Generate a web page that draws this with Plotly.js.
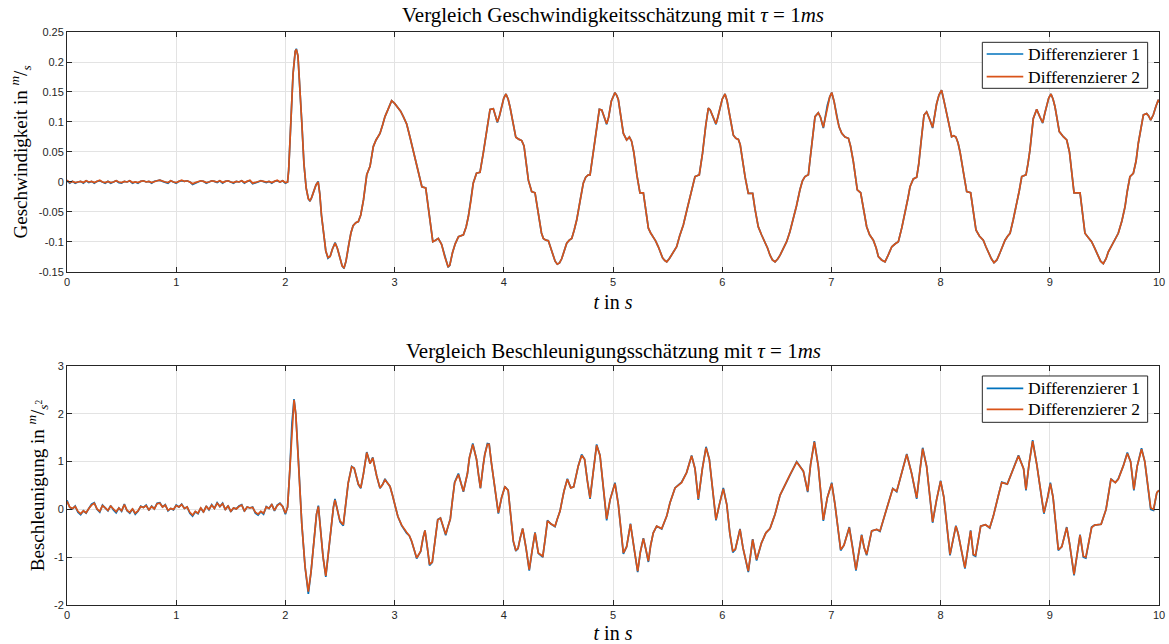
<!DOCTYPE html>
<html>
<head>
<meta charset="utf-8">
<script src="https://cdn.plot.ly/plotly-3.0.1.min.js"></script>
<style>html,body{margin:0;padding:0;background:#fff;}#chart{width:1169px;height:644px;}</style>
</head>
<body>
<div id="chart"></div>
<script>
// ---------- Data ----------
const velTime = [0,0.025,0.05,0.075,0.1,0.125,0.15,0.175,0.2,0.225,0.25,0.275,0.3,0.325,0.35,0.375,0.4,0.425,0.45,0.475,0.5,0.525,0.55,0.575,0.6,0.625,0.65,0.675,0.7,0.725,0.75,0.775,0.8,0.825,0.85,0.875,0.9,0.925,0.95,0.975,1.0,1.025,1.05,1.075,1.1,1.125,1.15,1.175,1.2,1.225,1.25,1.275,1.3,1.325,1.35,1.375,1.4,1.425,1.45,1.475,1.5,1.525,1.55,1.575,1.6,1.625,1.65,1.675,1.7,1.725,1.75,1.775,1.8,1.825,1.85,1.875,1.9,1.925,1.95,1.975,2.0,2.02,
2.03,2.05,2.07,2.09,2.1,2.115,2.13,2.15,2.17,2.19,2.21,2.225,2.24,2.26,2.28,2.3,2.315,2.33,2.35,2.37,2.39,2.41,2.43,2.455,2.475,2.5,2.52,2.537,2.555,2.58,2.6,2.62,2.645,2.668,2.69,2.715,2.745,2.775,2.79,2.805,2.83,2.866,2.89,2.912,2.94,2.973,3.0,3.03,3.055,3.08,3.11,3.14,3.18,3.217,3.235,3.25,3.285,3.3,3.32,3.35,3.375,3.4,3.43,3.46,3.49,3.505,3.53,3.555,3.585,3.63,3.655,3.675,3.7,3.72,3.75,3.782,3.812,3.845,3.874,3.904,3.92,3.941,3.96,3.98,4.0,4.02,4.04,4.057,4.085,4.11,4.14,4.164,4.185,4.205,4.225,4.255,4.286,4.305,4.325,4.345,4.362,4.385,4.408,4.43,4.453,4.47,4.49,4.51,4.53,4.555,4.576,4.6,4.622,4.645,4.668,4.7,4.728,4.75,4.774,4.79,4.82,4.85,4.875,4.897,4.92,4.942,4.96,4.985,5.018,5.035,5.049,5.07,5.095,5.125,5.15,5.17,5.19,5.22,5.247,5.278,5.3,5.324,5.345,5.369,5.39,5.415,5.435,5.455,5.475,5.492,5.515,5.537,5.56,5.583,5.61,5.644,5.675,5.705,5.73,5.751,5.79,5.82,5.85,5.873,5.89,5.903,5.925,5.943,5.96,5.98,6.0,6.026,6.045,6.06,6.08,6.102,6.125,6.148,6.165,6.185,6.21,6.239,6.279,6.3,6.33,6.36,6.392,6.415,6.438,6.46,6.484,6.51,6.53,6.56,6.59,6.62,6.651,6.68,6.712,6.735,6.758,6.789,6.8,6.82,6.85,6.88,6.9,6.926,6.945,6.963,6.985,7.003,7.025,7.049,7.07,7.095,7.125,7.156,7.175,7.2,7.237,7.268,7.29,7.323,7.35,7.384,7.41,7.43,7.46,7.491,7.52,7.553,7.585,7.613,7.645,7.674,7.7,7.72,7.75,7.781,7.8,7.82,7.848,7.872,7.9,7.927,7.945,7.963,7.985,8.009,8.03,8.055,8.08,8.101,8.12,8.14,8.16,8.178,8.21,8.239,8.275,8.3,8.324,8.355,8.391,8.415,8.437,8.465,8.489,8.515,8.544,8.57,8.59,8.615,8.636,8.665,8.697,8.72,8.743,8.782,8.8,8.818,8.849,8.88,8.91,8.935,8.955,8.971,8.99,9.011,9.03,9.048,9.07,9.087,9.124,9.155,9.18,9.2,9.222,9.277,9.3,9.322,9.35,9.383,9.41,9.444,9.465,9.49,9.515,9.535,9.56,9.581,9.605,9.627,9.66,9.689,9.71,9.734,9.765,9.79,9.811,9.835,9.857,9.887,9.905,9.924,9.948,9.97,9.994,10.0];

const velDiff2 = [0.003,-0.001,0.001,-0.001,0.000,0.001,-0.001,0.002,0.000,0.001,-0.001,0.001,0.003,0.000,-0.001,0.001,-0.001,0.000,0.002,0.000,-0.001,0.001,0.000,0.002,-0.001,0.000,-0.001,0.001,0.002,0.000,0.001,-0.001,0.001,0.002,0.003,0.001,0.000,-0.001,0.002,0.000,-0.001,0.001,0.003,0.001,0.002,0.000,-0.003,-0.001,0.000,0.002,0.001,-0.001,0.000,0.002,0.001,0.000,0.002,-0.001,0.001,0.002,0.000,-0.001,0.001,0.000,0.002,-0.001,0.001,0.003,-0.002,-0.001,0.000,0.002,0.001,0.000,0.001,-0.001,0.001,0.003,0.000,0.002,-0.001,0.000,
0.02,0.10,0.18,0.218,0.221,0.21,0.17,0.10,0.03,-0.01,-0.028,-0.031,-0.026,-0.015,-0.005,0.000,-0.02,-0.055,-0.09,-0.115,-0.126,-0.124,-0.112,-0.102,-0.11,-0.128,-0.14,-0.143,-0.132,-0.105,-0.085,-0.073,-0.068,-0.066,-0.055,-0.03,0.012,0.026,0.045,0.059,0.07,0.081,0.095,0.109,0.121,0.1355,0.131,0.124,0.118,0.109,0.097,0.0755,0.045,0.015,0.004,-0.008,-0.01,-0.03,-0.065,-0.0995,-0.097,-0.094,-0.104,-0.125,-0.141,-0.139,-0.118,-0.103,-0.091,-0.088,-0.075,-0.058,-0.03,-0.002,0.0145,0.016,0.048,0.09,0.121,0.122,0.112,0.1,0.11,0.1255,0.14,0.1467,0.138,0.125,0.097,0.0745,0.071,0.069,0.06,0.03,0.003,-0.016,-0.018,-0.04,-0.063,-0.085,-0.094,-0.097,-0.098,-0.11,-0.1245,-0.132,-0.137,-0.135,-0.128,-0.112,-0.102,-0.097,-0.094,-0.08,-0.063,-0.03,-0.002,0.008,0.012,0.012,0.048,0.09,0.121,0.12,0.108,0.097,0.108,0.135,0.149,0.144,0.137,0.11,0.081,0.07,0.075,0.068,0.05,0.01,-0.018,-0.018,-0.045,-0.077,-0.085,-0.091,-0.098,-0.108,-0.118,-0.127,-0.131,-0.133,-0.128,-0.122,-0.115,-0.108,-0.09,-0.0717,-0.048,-0.0245,-0.002,0.009,0.012,0.048,0.095,0.123,0.12,0.1145,0.105,0.097,0.108,0.121,0.138,0.1467,0.135,0.12,0.098,0.078,0.073,0.071,0.062,0.035,0.008,-0.019,-0.019,-0.045,-0.0745,-0.088,-0.0995,-0.11,-0.122,-0.13,-0.133,-0.128,-0.122,-0.11,-0.0995,-0.083,-0.063,-0.04,-0.013,0.002,0.009,0.012,0.03,0.059,0.109,0.1155,0.108,0.091,0.108,0.128,0.142,0.149,0.134,0.109,0.092,0.081,0.075,0.0728,0.06,0.035,-0.013,-0.018,-0.04,-0.0745,-0.088,-0.097,-0.11,-0.1245,-0.13,-0.133,-0.122,-0.108,-0.103,-0.0995,-0.076,-0.052,-0.028,-0.008,0.005,0.008,0.03,0.065,0.1117,0.117,0.105,0.091,0.11,0.13,0.145,0.153,0.136,0.1145,0.09,0.0755,0.077,0.075,0.065,0.05,0.015,-0.016,-0.018,-0.05,-0.08,-0.09,-0.097,-0.108,-0.118,-0.128,-0.1345,-0.13,-0.118,-0.105,-0.097,-0.09,-0.0855,-0.063,-0.038,-0.015,0.009,0.012,0.03,0.053,0.106,0.121,0.108,0.099,0.115,0.128,0.14,0.1467,0.138,0.125,0.1,0.084,0.0755,0.07,0.05,0.02,-0.018,-0.018,-0.05,-0.0855,-0.092,-0.0995,-0.11,-0.1245,-0.132,-0.136,-0.128,-0.117,-0.108,-0.0995,-0.092,-0.0855,-0.065,-0.041,-0.015,0.009,0.0145,0.035,0.065,0.09,0.1117,0.114,0.11,0.103,0.112,0.125,0.137,0.133];

const velDiff1 = [0.002,-0.002,0.001,-0.002,0.000,0.001,-0.002,0.002,-0.001,0.001,-0.002,0.001,0.002,0.000,-0.002,0.001,-0.002,0.000,0.002,-0.001,-0.002,0.001,0.000,0.002,-0.002,0.000,-0.002,0.001,0.002,0.000,0.001,-0.002,0.001,0.002,0.003,0.001,0.000,-0.002,0.002,0.000,-0.002,0.001,0.002,0.001,0.002,0.000,-0.004,-0.002,0.000,0.002,0.001,-0.002,0.000,0.002,0.001,-0.001,0.002,-0.002,0.001,0.002,0.000,-0.002,0.001,0.000,0.002,-0.002,0.001,0.002,-0.003,-0.002,0.000,0.002,0.001,-0.001,0.001,-0.002,0.001,0.002,0.000,0.002,-0.002,0.000,
0.02,0.10,0.18,0.218,0.222,0.21,0.17,0.10,0.03,-0.01,-0.028,-0.032,-0.026,-0.015,-0.005,0.001,-0.02,-0.055,-0.09,-0.115,-0.127,-0.124,-0.112,-0.101,-0.11,-0.128,-0.14,-0.144,-0.132,-0.105,-0.085,-0.073,-0.068,-0.066,-0.055,-0.03,0.012,0.026,0.045,0.059,0.07,0.081,0.095,0.109,0.121,0.1355,0.131,0.124,0.118,0.109,0.097,0.0755,0.045,0.015,0.004,-0.008,-0.01,-0.03,-0.065,-0.0995,-0.097,-0.094,-0.104,-0.125,-0.142,-0.139,-0.118,-0.103,-0.091,-0.088,-0.075,-0.058,-0.03,-0.002,0.0145,0.016,0.048,0.09,0.121,0.122,0.112,0.099,0.11,0.1255,0.14,0.1467,0.138,0.125,0.097,0.0745,0.071,0.069,0.06,0.03,0.003,-0.016,-0.018,-0.04,-0.063,-0.085,-0.094,-0.097,-0.098,-0.11,-0.1245,-0.132,-0.137,-0.135,-0.128,-0.112,-0.102,-0.097,-0.094,-0.08,-0.063,-0.03,-0.002,0.008,0.012,0.012,0.048,0.09,0.121,0.12,0.108,0.096,0.108,0.135,0.149,0.144,0.137,0.11,0.081,0.07,0.075,0.068,0.05,0.01,-0.018,-0.018,-0.045,-0.077,-0.085,-0.091,-0.098,-0.108,-0.118,-0.127,-0.131,-0.133,-0.128,-0.122,-0.115,-0.108,-0.09,-0.0717,-0.048,-0.0245,-0.002,0.009,0.012,0.048,0.095,0.123,0.12,0.1145,0.105,0.096,0.108,0.121,0.138,0.1467,0.135,0.12,0.098,0.078,0.073,0.071,0.062,0.035,0.008,-0.019,-0.019,-0.045,-0.0745,-0.088,-0.0995,-0.11,-0.122,-0.13,-0.133,-0.128,-0.122,-0.11,-0.0995,-0.083,-0.063,-0.04,-0.013,0.002,0.009,0.012,0.03,0.059,0.109,0.1155,0.108,0.09,0.108,0.128,0.142,0.149,0.134,0.109,0.092,0.081,0.075,0.0728,0.06,0.035,-0.013,-0.018,-0.04,-0.0745,-0.088,-0.097,-0.11,-0.1245,-0.13,-0.133,-0.122,-0.108,-0.103,-0.0995,-0.076,-0.052,-0.028,-0.008,0.005,0.008,0.03,0.065,0.1117,0.117,0.105,0.09,0.11,0.13,0.145,0.153,0.136,0.1145,0.09,0.0755,0.077,0.075,0.065,0.05,0.015,-0.016,-0.018,-0.05,-0.08,-0.09,-0.097,-0.108,-0.118,-0.128,-0.1345,-0.13,-0.118,-0.105,-0.097,-0.09,-0.0855,-0.063,-0.038,-0.015,0.009,0.012,0.03,0.053,0.106,0.121,0.108,0.098,0.115,0.128,0.14,0.1467,0.138,0.125,0.1,0.084,0.0755,0.07,0.05,0.02,-0.018,-0.018,-0.05,-0.0855,-0.092,-0.0995,-0.11,-0.1245,-0.132,-0.136,-0.128,-0.117,-0.108,-0.0995,-0.092,-0.0855,-0.065,-0.041,-0.015,0.009,0.0145,0.035,0.065,0.09,0.1117,0.114,0.11,0.103,0.112,0.125,0.137,0.133];

const accTime = [0,0.025,0.05,0.075,0.1,0.125,0.15,0.175,0.2,0.225,0.25,0.275,0.3,0.325,0.35,0.375,0.4,0.425,0.45,0.475,0.5,0.525,0.55,0.575,0.6,0.625,0.65,0.675,0.7,0.725,0.75,0.775,0.8,0.825,0.85,0.875,0.9,0.925,0.95,0.975,1.0,1.025,1.05,1.075,1.1,1.125,1.15,1.175,1.2,1.225,1.25,1.275,1.3,1.325,1.35,1.375,1.4,1.425,1.45,1.475,1.5,1.525,1.55,1.575,1.6,1.625,1.65,1.675,1.7,1.725,1.75,1.775,1.8,1.825,1.85,1.875,1.9,1.925,1.95,1.975,2.0,2.02,
2.04,2.06,2.079,2.095,2.12,2.15,2.18,2.21,2.235,2.26,2.285,2.302,2.32,2.345,2.37,2.39,2.415,2.44,2.454,2.475,2.5,2.53,2.55,2.575,2.607,2.63,2.668,2.69,2.715,2.745,2.775,2.8,2.836,2.866,2.89,2.912,2.935,2.958,2.98,3.004,3.03,3.065,3.09,3.11,3.135,3.156,3.18,3.202,3.22,3.239,3.26,3.278,3.3,3.32,3.345,3.37,3.395,3.42,3.445,3.468,3.49,3.51,3.53,3.55,3.584,3.61,3.63,3.667,3.685,3.716,3.735,3.75,3.77,3.786,3.81,3.826,3.85,3.866,3.885,3.904,3.93,3.95,3.98,4.01,4.04,4.065,4.087,4.11,4.13,4.15,4.173,4.203,4.233,4.26,4.286,4.316,4.357,4.38,4.4,4.43,4.469,4.49,4.515,4.535,4.551,4.582,4.613,4.64,4.682,4.713,4.74,4.765,4.79,4.82,4.85,4.881,4.91,4.942,4.973,5.018,5.049,5.07,5.095,5.125,5.16,5.192,5.226,5.25,5.278,5.302,5.324,5.345,5.369,5.4,5.446,5.492,5.522,5.568,5.628,5.674,5.72,5.751,5.781,5.818,5.852,5.882,5.91,5.943,5.974,6.01,6.042,6.07,6.097,6.12,6.163,6.19,6.239,6.279,6.315,6.36,6.4,6.438,6.461,6.484,6.53,6.576,6.621,6.682,6.743,6.783,6.81,6.844,6.88,6.926,6.963,7.003,7.033,7.085,7.115,7.164,7.195,7.225,7.277,7.3,7.323,7.369,7.415,7.445,7.491,7.537,7.562,7.598,7.635,7.69,7.735,7.781,7.81,7.836,7.872,7.927,7.963,8.0,8.03,8.086,8.14,8.16,8.223,8.275,8.3,8.32,8.367,8.41,8.45,8.483,8.528,8.56,8.611,8.652,8.713,8.76,8.782,8.81,8.843,8.88,8.946,8.98,9.005,9.03,9.078,9.11,9.155,9.18,9.222,9.277,9.307,9.33,9.383,9.41,9.47,9.515,9.56,9.6,9.627,9.673,9.71,9.74,9.77,9.8,9.84,9.87,9.924,9.95,9.98,10.0];

const accDiff2 = [0.17,0.05,0.02,0.06,-0.04,-0.09,-0.03,-0.07,0.02,0.09,0.13,0.01,-0.04,0.08,0.03,-0.02,0.07,0.00,-0.05,0.03,-0.03,0.10,-0.02,-0.06,0.01,-0.08,-0.03,0.06,0.04,0.08,-0.01,0.06,0.01,0.12,0.13,0.05,0.09,-0.02,0.02,0.00,0.08,0.05,0.10,0.02,0.05,-0.06,-0.12,-0.04,-0.08,0.03,-0.05,0.06,0.00,0.09,0.02,0.13,0.06,0.12,0.00,0.07,-0.04,0.03,0.01,0.06,0.09,-0.03,0.05,0.03,0.04,-0.06,-0.10,-0.04,-0.08,0.05,0.02,0.10,-0.02,0.08,0.12,0.06,-0.08,0.05,
0.8,1.8,2.29,2.0,1.0,-0.3,-1.2,-1.72,-1.3,-0.7,-0.1,0.06,-0.4,-1.0,-1.39,-1.0,-0.4,0.05,0.2,0.0,-0.24,-0.32,0.1,0.55,0.89,0.86,0.53,0.45,0.75,1.19,0.96,1.08,0.7,0.45,0.52,0.62,0.55,0.48,0.3,0.05,-0.15,-0.33,-0.42,-0.48,-0.55,-0.66,-0.85,-1.01,-0.95,-0.87,-0.6,-0.44,-0.8,-1.15,-1.1,-0.6,-0.22,-0.18,-0.35,-0.52,-0.35,-0.2,0.2,0.56,0.73,0.55,0.38,0.75,1.08,1.36,1.2,1.05,0.7,0.45,0.9,1.15,1.36,1.36,1.0,0.7,0.3,-0.07,0.25,0.47,0.4,-0.2,-0.66,-0.85,-0.82,-0.6,-0.4,-0.8,-1.26,-0.85,-0.49,-0.91,-0.98,-0.6,-0.24,-0.3,-0.35,-0.2,-0.035,0.2,0.38,0.63,0.45,0.47,0.91,1.13,1.05,0.6,0.24,0.8,1.34,1.13,0.5,-0.2,0.2,0.54,0.1,-0.4,-0.91,-0.78,-0.31,-0.8,-1.29,-0.9,-0.61,-0.85,-1.08,-0.75,-0.49,-0.35,-0.4,-0.14,0.14,0.45,0.56,0.77,1.12,0.85,0.22,0.85,1.29,1.05,0.4,-0.21,0.1,0.43,0.1,-0.5,-0.87,-0.84,-0.42,-0.8,-1.29,-0.63,-1.05,-0.7,-0.49,-0.4,-0.25,-0.1,0.3,0.52,0.73,0.99,0.8,0.38,0.95,1.41,0.9,-0.22,0.25,0.54,0.1,-0.84,-0.75,-0.38,-0.8,-1.26,-0.54,-0.8,-0.94,-0.45,-0.42,-0.45,-0.1,0.28,0.43,0.38,0.7,1.15,0.75,0.24,0.8,1.27,0.9,-0.26,0.2,0.59,0.25,-0.94,-0.35,-0.5,-1.22,-0.45,-0.94,-0.96,-0.35,-0.32,-0.38,-0.14,0.28,0.56,0.53,0.77,1.12,0.85,0.42,0.95,1.43,0.95,-0.07,0.25,0.54,0.25,-0.84,-0.78,-0.38,-0.7,-1.36,-0.54,-0.98,-1.0,-0.38,-0.33,-0.31,0.0,0.63,0.56,0.63,0.91,1.17,1.0,0.42,0.9,1.26,1.0,0.035,0.0,0.35,0.4];

const accDiff1 = [0.19,0.04,0.01,0.07,-0.06,-0.11,-0.03,-0.08,0.02,0.11,0.14,0.00,-0.06,0.09,0.03,-0.03,0.08,-0.01,-0.07,0.03,-0.04,0.11,-0.03,-0.08,0.01,-0.10,-0.04,0.07,0.04,0.09,-0.02,0.07,0.01,0.13,0.14,0.05,0.10,-0.03,0.02,-0.01,0.09,0.05,0.11,0.02,0.05,-0.08,-0.14,-0.05,-0.09,0.03,-0.06,0.07,-0.01,0.10,0.02,0.14,0.06,0.13,-0.01,0.08,-0.05,0.03,0.01,0.07,0.10,-0.04,0.05,0.03,0.05,-0.08,-0.12,-0.05,-0.10,0.06,0.02,0.11,-0.03,0.09,0.13,0.06,-0.10,0.05,
0.8,1.8,2.31,2.0,1.0,-0.3,-1.2,-1.77,-1.3,-0.7,-0.1,0.08,-0.4,-1.0,-1.41,-1.0,-0.4,0.05,0.22,0.0,-0.26,-0.34,0.1,0.55,0.9,0.86,0.52,0.44,0.75,1.2,0.96,1.09,0.7,0.44,0.52,0.64,0.55,0.48,0.3,0.05,-0.15,-0.34,-0.42,-0.5,-0.55,-0.67,-0.85,-1.03,-0.95,-0.88,-0.6,-0.44,-0.8,-1.17,-1.11,-0.6,-0.21,-0.18,-0.36,-0.54,-0.35,-0.2,0.2,0.57,0.75,0.55,0.37,0.75,1.08,1.38,1.2,1.05,0.7,0.44,0.9,1.15,1.38,1.37,1.0,0.7,0.3,-0.09,0.25,0.48,0.4,-0.2,-0.67,-0.87,-0.82,-0.6,-0.4,-0.8,-1.28,-0.85,-0.48,-0.92,-1.0,-0.6,-0.23,-0.3,-0.36,-0.2,-0.035,0.2,0.38,0.64,0.45,0.47,0.91,1.15,1.05,0.6,0.22,0.8,1.36,1.13,0.5,-0.23,0.2,0.56,0.1,-0.4,-0.93,-0.78,-0.3,-0.8,-1.31,-0.9,-0.6,-0.85,-1.1,-0.75,-0.49,-0.35,-0.41,-0.14,0.14,0.45,0.57,0.77,1.13,0.85,0.2,0.85,1.31,1.05,0.4,-0.23,0.1,0.45,0.1,-0.5,-0.9,-0.84,-0.41,-0.8,-1.31,-0.62,-1.07,-0.7,-0.49,-0.4,-0.25,-0.1,0.3,0.52,0.74,1.0,0.8,0.36,0.95,1.43,0.9,-0.24,0.25,0.56,0.1,-0.86,-0.75,-0.37,-0.8,-1.28,-0.53,-0.8,-0.96,-0.45,-0.42,-0.46,-0.1,0.28,0.44,0.37,0.7,1.16,0.75,0.22,0.8,1.29,0.9,-0.28,0.2,0.6,0.25,-0.96,-0.34,-0.5,-1.24,-0.44,-0.96,-0.98,-0.35,-0.32,-0.39,-0.14,0.28,0.57,0.53,0.78,1.13,0.85,0.4,0.95,1.45,0.95,-0.09,0.25,0.56,0.25,-0.86,-0.78,-0.37,-0.7,-1.38,-0.53,-1.0,-1.02,-0.37,-0.33,-0.31,0.0,0.64,0.56,0.64,0.91,1.19,1.0,0.4,0.9,1.28,1.0,0.0,-0.02,0.35,0.4];

const seriesNames = ["Differenzierer 1", "Differenzierer 2"];
const seriesColors = ["#0072BD", "#D95319"];
const velTickVals = [-0.15,-0.1,-0.05,0,0.05,0.1,0.15,0.2,0.25];
const velTickText = ["-0.15","-0.1","-0.05","0","0.05","0.1","0.15","0.2","0.25"];
const accTickVals = [-2,-1,0,1,2,3];
const accTickText = ["-2","-1","0","1","2","3"];
const timeTickVals = [0,1,2,3,4,5,6,7,8,9,10];
const timeTickText = ["0","1","2","3","4","5","6","7","8","9","10"];

const title1 = "Vergleich Geschwindigkeitsschätzung mit <i>τ</i> = 1<i>ms</i>";
const title2 = "Vergleich Beschleunigungsschätzung mit <i>τ</i> = 1<i>ms</i>";
const yTitle1 = "Geschwindigkeit in <sup><i>m</i></sup>/<sub><i>s</i></sub>";
const yTitle2 = "Beschleunigung in <sup><i>m</i></sup>/<sub><i>s</i><sup>2</sup></sub>";
const xTitle = "<i>t</i> in <i>s</i>";

// ---------- Figure ----------
const serif = "Liberation Serif, Times New Roman, serif";
const sans = "Liberation Sans, Arial, Helvetica, sans-serif";

const traces = [
  {x: velTime, y: velDiff1, name: seriesNames[0], type: "scatter", mode: "lines",
   line: {color: seriesColors[0], width: 1.7}, xaxis: "x", yaxis: "y", showlegend: false},
  {x: velTime, y: velDiff2, name: seriesNames[1], type: "scatter", mode: "lines",
   line: {color: seriesColors[1], width: 1.7}, xaxis: "x", yaxis: "y", showlegend: false},
  {x: accTime, y: accDiff1, name: seriesNames[0], type: "scatter", mode: "lines",
   line: {color: seriesColors[0], width: 1.7}, xaxis: "x2", yaxis: "y2", showlegend: false},
  {x: accTime, y: accDiff2, name: seriesNames[1], type: "scatter", mode: "lines",
   line: {color: seriesColors[1], width: 1.7}, xaxis: "x2", yaxis: "y2", showlegend: false}
];

const axisCommon = {
  showline: true, linecolor: "#262626", linewidth: 1, mirror: "ticks",
  ticks: "inside", ticklen: 5, tickcolor: "#262626", tickwidth: 1,
  showgrid: true, gridcolor: "#e3e3e3", gridwidth: 1, zeroline: false,
  tickfont: {family: sans, size: 11, color: "#262626"}, tickmode: "array", automargin: false
};

// Legend boxes (drawn as shapes + annotations, positioned in paper coordinates)
function legendBox(yTop, yBottom, yRow1, yRow2) {
  const shapes = [
    {type: "rect", xref: "paper", yref: "paper", x0: 0.8382, x1: 0.9896, y0: yBottom, y1: yTop,
     line: {color: "#262626", width: 1}, fillcolor: "#ffffff", layer: "above"},
    {type: "line", xref: "paper", yref: "paper", x0: 0.8422, x1: 0.8757, y0: yRow1, y1: yRow1,
     line: {color: seriesColors[0], width: 1.7}, layer: "above"},
    {type: "line", xref: "paper", yref: "paper", x0: 0.8422, x1: 0.8757, y0: yRow2, y1: yRow2,
     line: {color: seriesColors[1], width: 1.7}, layer: "above"}
  ];
  const annots = [
    {text: seriesNames[0], xref: "paper", yref: "paper", x: 0.8785, y: yRow1, xanchor: "left", yanchor: "middle",
     showarrow: false, font: {family: serif, size: 17.5, color: "#000"}},
    {text: seriesNames[1], xref: "paper", yref: "paper", x: 0.8785, y: yRow2, xanchor: "left", yanchor: "middle",
     showarrow: false, font: {family: serif, size: 17.5, color: "#000"}}
  ];
  return {shapes, annots};
}
const lg1 = legendBox(0.9820, 0.9017, 0.9616, 0.9220);
const lg2 = legendBox(0.3997, 0.3188, 0.3782, 0.3415);

const layout = {
  width: 1169, height: 644,
  paper_bgcolor: "#ffffff", plot_bgcolor: "#ffffff",
  margin: {l: 67, r: 10, t: 32, b: 39},
  showlegend: false,
  xaxis: Object.assign({}, axisCommon, {domain: [0, 1], range: [0, 10], anchor: "y",
    tickvals: timeTickVals, ticktext: timeTickText,
    title: {text: xTitle, font: {family: serif, size: 20, color: "#000"}, standoff: 7}}),
  yaxis: Object.assign({}, axisCommon, {domain: [0.5812, 1], range: [-0.15, 0.25], anchor: "x",
    tickvals: velTickVals, ticktext: velTickText,
    title: {text: yTitle1, font: {family: serif, size: 19, color: "#000"}, standoff: 6}}),
  xaxis2: Object.assign({}, axisCommon, {domain: [0, 1], range: [0, 10], anchor: "y2",
    tickvals: timeTickVals, ticktext: timeTickText,
    title: {text: xTitle, font: {family: serif, size: 20, color: "#000"}, standoff: 6}}),
  yaxis2: Object.assign({}, axisCommon, {domain: [0, 0.4171], range: [-2, 3], anchor: "x2",
    tickvals: accTickVals, ticktext: accTickText,
    title: {text: yTitle2, font: {family: serif, size: 19, color: "#000"}, standoff: 4}}),
  shapes: lg1.shapes.concat(lg2.shapes),
  annotations: [
    {text: title1, xref: "paper", yref: "paper", x: 0.5, y: 1.0297, xanchor: "center", yanchor: "middle",
     showarrow: false, font: {family: serif, size: 21, color: "#000"}},
    {text: title2, xref: "paper", yref: "paper", x: 0.5, y: 0.4433, xanchor: "center", yanchor: "middle",
     showarrow: false, font: {family: serif, size: 21, color: "#000"}}
  ].concat(lg1.annots, lg2.annots)
};

Plotly.newPlot("chart", traces, layout, {displayModeBar: false, staticPlot: true});
</script>
</body>
</html>
